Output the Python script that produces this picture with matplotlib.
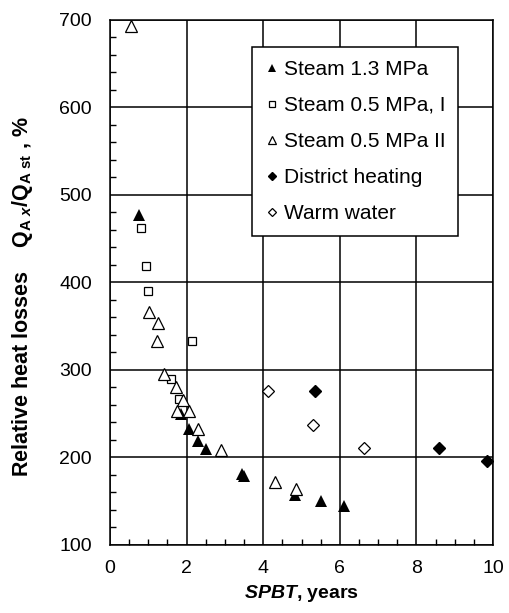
import matplotlib
matplotlib.use("Agg")
import matplotlib.pyplot as plt
from matplotlib.ticker import MultipleLocator

plt.rcParams['font.family'] = ['Liberation Sans', 'DejaVu Sans']
plt.rcParams['mathtext.fontset'] = 'custom'
plt.rcParams['mathtext.rm'] = 'Liberation Sans'
plt.rcParams['mathtext.bf'] = 'Liberation Sans:bold'
plt.rcParams['mathtext.it'] = 'Liberation Sans:italic'
plt.rcParams['mathtext.bfit'] = 'Liberation Sans:bold:italic'

# data
steam13_x = [0.76, 1.85, 2.07, 2.29, 2.51, 3.44, 3.51, 4.83, 5.51, 6.11]
steam13_y = [477, 250, 232, 219, 210, 181, 179, 157, 150, 144]

steam05a_x = [0.80, 0.93, 1.00, 2.13, 1.59, 1.81]
steam05a_y = [462, 419, 390, 333, 289, 267]

steam05b_x = [0.54, 1.03, 1.26, 1.22, 1.42, 1.71, 1.90, 1.74, 2.07, 2.31, 2.89, 4.31, 4.85]
steam05b_y = [693, 366, 354, 333, 295, 280, 265, 253, 253, 232, 208, 172, 164]

district_x = [5.35, 8.60, 9.83]
district_y = [276, 211, 196]

warm_x = [4.13, 5.31, 6.64]
warm_y = [276, 237, 211]

fig = plt.figure(figsize=(5.1, 6.13), dpi=100)
ax = fig.add_axes([0.2157, 0.111, 0.751, 0.857])

ax.plot(steam13_x, steam13_y, '^', ms=8.5, color='black', mew=0, ls='none', label='Steam 1.3 MPa')
ax.plot(steam05a_x, steam05a_y, 's', ms=6, mfc='white', mec='black', mew=0.9, ls='none', label='Steam 0.5 MPa, I')
ax.plot(steam05b_x, steam05b_y, '^', ms=9, mfc='white', mec='black', mew=0.9, ls='none', label='Steam 0.5 MPa II')
ax.plot(district_x, district_y, 'D', ms=6.5, color='black', ls='none', label='District heating')
ax.plot(warm_x, warm_y, 'D', ms=6.5, mfc='white', mec='black', mew=0.9, ls='none', label='Warm water')

ax.set_xlim(0, 10)
ax.set_ylim(100, 700)
ax.xaxis.set_major_locator(MultipleLocator(2))
ax.xaxis.set_minor_locator(MultipleLocator(0.5))
ax.yaxis.set_major_locator(MultipleLocator(100))
ax.yaxis.set_minor_locator(MultipleLocator(20))
ax.grid(True, which='major', color='black', lw=1.1)
ax.set_axisbelow(True)
for s in ax.spines.values():
    s.set_linewidth(1.1)
ax.tick_params(which='both', direction='in', labelsize=14, width=1.0)
ax.tick_params(axis='y', pad=13)
ax.tick_params(axis='x', pad=11)
ax.tick_params(which='major', length=0)
ax.tick_params(which='minor', length=4)
ax.tick_params(axis='x', which='both', top=False)
ax.tick_params(axis='y', which='both', right=False)

ax.set_xlabel(r'$\mathbfit{SPBT}$, years', fontsize=14, fontweight='bold', labelpad=4)
ax.set_ylabel(r'Relative heat losses    $\mathbf{Q}_{\mathbf{A}\ \mathbfit{x}}\mathbf{/Q}_{\mathbf{A\ st}}$ , %',
              fontsize=15.5, fontweight='bold')
ax.yaxis.set_label_coords(-0.195, 0.473)

leg = ax.legend(loc='upper left', bbox_to_anchor=(0.371, 0.948), fontsize=15, markerscale=0.68,
                handlelength=0.7, handletextpad=0.2, labelspacing=0.82, borderpad=0.62,
                fancybox=False, framealpha=1, edgecolor='black', borderaxespad=0)
leg.get_frame().set_linewidth(1.1)

fig.savefig('out.png', dpi=100)
